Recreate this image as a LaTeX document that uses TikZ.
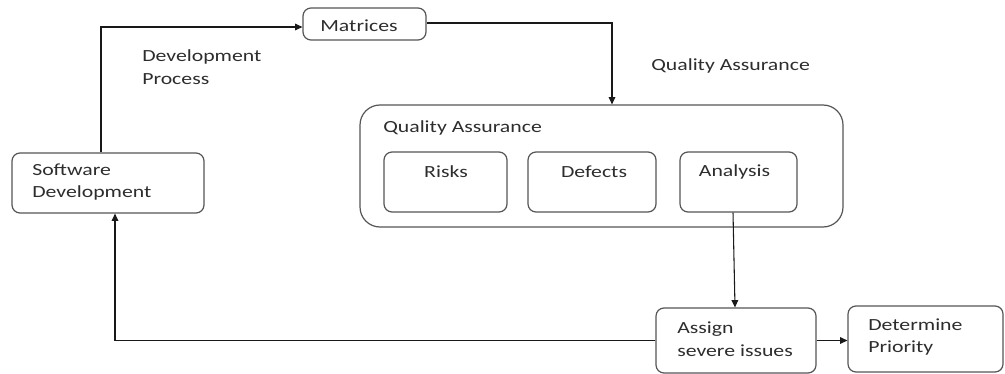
\documentclass[tikz,border=0pt]{standalone}
\usepackage{fontspec}
\setmainfont{Carlito}
\usepackage{graphicx}
\usetikzlibrary{arrows.meta,calc}
\newcommand{\sx}[1]{\scalebox{1.28}[1]{#1}}
\definecolor{boxline}{RGB}{85,85,85}
\definecolor{txt}{RGB}{45,45,45}
\definecolor{conline}{RGB}{25,25,25}
\tikzset{
  box/.style={draw=boxline, line width=0.9pt, rounded corners=6pt, inner sep=0pt},
  bigbox/.style={draw=boxline, line width=0.9pt, rounded corners=15pt, inner sep=0pt},
  lbl/.style={inner sep=0pt, text=txt, align=left, font=\fontsize{12.75}{16.9}\selectfont},
  conn/.style={draw=conline, line width=0.8pt, -{Triangle[length=5.5pt,width=5pt]}},
}
\begin{document}
\begin{tikzpicture}[x=0.75pt,y=-0.75pt]
\useasboundingbox (0,0) rectangle (1005,374);
% boxes
\node[box, minimum width=144pt, minimum height=45pt] (sd) at (108,183) {};
\node[box, minimum width=92.25pt, minimum height=24pt] (mat) at (364.5,24) {};
\node[bigbox, minimum width=362.25pt, minimum height=91.5pt] (qa) at (601.5,166) {};
\node[box, minimum width=92.25pt, minimum height=45pt] (risk) at (445.5,182) {};
\node[box, minimum width=96pt, minimum height=45pt] (def) at (592,182) {};
\node[box, minimum width=87.75pt, minimum height=45pt] (an) at (738.5,182) {};
\node[box, minimum width=120pt, minimum height=48.75pt] (as) at (736,340.5) {};
\node[box, minimum width=116.25pt, minimum height=49.5pt] (dp) at (925.5,339) {};
% texts
\node[lbl, anchor=west] (sdtext) at (32,182) {\sx{Software}\\\sx{Development}};
\node[lbl] (mattext) at (359,26) {\sx{Matrices}};
\node[lbl, anchor=west] (devtext) at (142,67) {\sx{Development}\\\sx{Process}};
\node[lbl, anchor=west] (qaout) at (651,66) {\sx{Quality Assurance}};
\node[lbl, anchor=west] (qain) at (383,128) {\sx{Quality Assurance}};
\node[lbl] (risktext) at (446,172) {\sx{Risks}};
\node[lbl] (deftext) at (594,172) {\sx{Defects}};
\node[lbl] (antext) at (734.5,172) {\sx{Analysis}};
\node[lbl, anchor=west] (astext) at (677,339) {\sx{Assign}\\\sx{severe issues}};
\node[lbl, anchor=west] (dptext) at (868,337) {\sx{Determine}\\\sx{Priority}};
% connectors
\draw[conn] ($(sd.north)+(-7,0)$) |- ($(mat.west)+(0,3)$);
\draw[conn] ($(mat.east)+(0,-1)$) -| ($(qa.north)+(10.5,0)$);
\draw[conn] ($(an.south)+(-5.5,0)$) -- ($(as.north)+(-1,0)$);
\draw[conn] (as.east) -- (as.east -| dp.west);
\draw[conn] (as.west) -| ($(sd.south)+(7,0)$);
\end{tikzpicture}
\end{document}
